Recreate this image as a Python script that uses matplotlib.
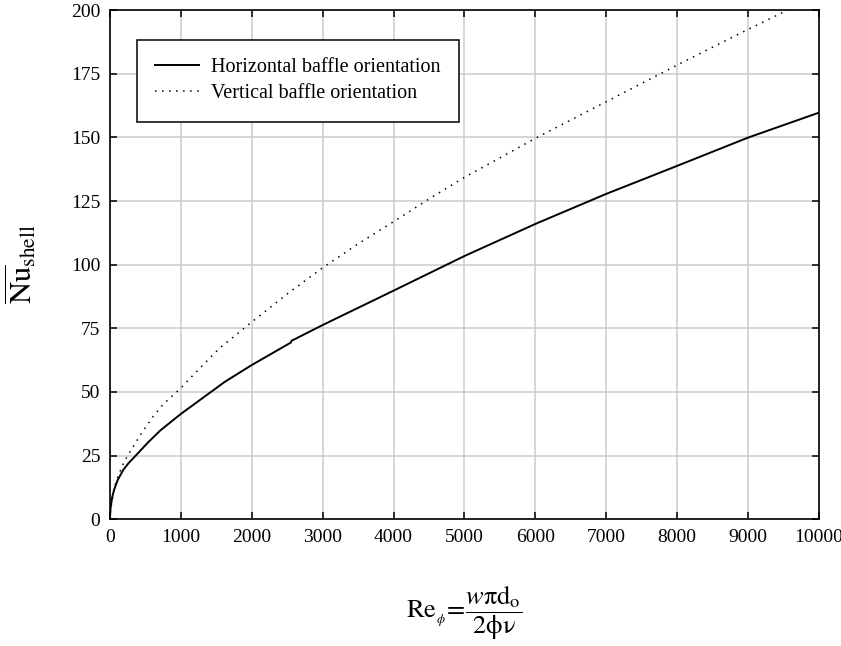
import matplotlib.pyplot as plt

plt.rcParams['font.family'] = ['Liberation Serif', 'DejaVu Serif']
plt.rcParams['mathtext.fontset'] = 'stix'

# Reynolds number readings and shell side Nusselt number
re_horizontal = [0, 5, 15, 33, 60, 108, 187, 260, 362, 540, 714, 1000, 1620,
                 2000, 2550, 2560, 3000, 4000, 5000, 6000, 7000, 8000, 9000, 10000]
nu_horizontal = [0, 3.7, 5.9, 8.9, 11.8, 15.4, 19.4, 22.0, 25.0, 30.3, 35.0, 41.4, 54.0,
                 60.6, 69.4, 70.1, 76.3, 89.8, 103.4, 116.0, 127.8, 138.8, 149.9, 159.7]

re_vertical = [0, 10, 30, 63, 120, 190, 249, 437, 611, 751, 939, 1000, 1300, 1550,
               2000, 2500, 3000, 3500, 4000, 4500, 5000, 6000, 7000, 8000, 9000, 9560, 10000]
nu_vertical = [0, 4.2, 7.6, 12.8, 17.4, 22.0, 25.0, 33.5, 40.5, 45.2, 50.0, 51.6, 60.3, 67.3,
               77.5, 88.5, 98.8, 108.2, 116.9, 125.8, 134.3, 149.6, 164.0, 178.4, 192.4, 200.0, 206.0]

x_ticks = list(range(0, 10001, 1000))
y_ticks = list(range(0, 201, 25))

fig = plt.figure(figsize=(8.41, 6.46), dpi=100)
ax = fig.add_axes([0.1308, 0.1961, 0.8430, 0.7884])

ax.plot(re_horizontal, nu_horizontal, color='black', lw=1.4,
        label='Horizontal baffle orientation')
ax.plot(re_vertical, nu_vertical, color='black', lw=1.1, linestyle=(0, (1, 3.6)),
        label='Vertical baffle orientation')

ax.set_xlim(0, 10000)
ax.set_ylim(0, 200)
ax.set_xticks(x_ticks)
ax.set_yticks(y_ticks)
ax.grid(True, color='#cccccc', lw=1.1)
ax.set_axisbelow(True)
ax.tick_params(direction='in', length=5, width=1.1, labelsize=14,
               top=True, right=True, pad=7)
for s in ax.spines.values():
    s.set_linewidth(1.2)

ax.set_ylabel(r'$\overline{\mathrm{Nu}}_{\mathrm{shell}}$', fontsize=22)
ax.yaxis.set_label_coords(-0.1, 0.5)
ax.set_xlabel(r'$\mathrm{Re}_{_{\phi}}\!=\!\dfrac{w\mathrm{\pi d_o}}{\mathrm{2\phi\nu}}$', fontsize=19)
ax.xaxis.set_label_coords(0.5, -0.125)

leg = ax.legend(loc='upper left', bbox_to_anchor=(0.0377, 0.941), borderaxespad=0,
                fontsize=14.5, fancybox=False, edgecolor='black', framealpha=1,
                handlelength=2.2, handletextpad=0.6, borderpad=0.9, labelspacing=0.35)
leg.get_frame().set_linewidth(1.1)

fig.savefig('out.png', dpi=100)
